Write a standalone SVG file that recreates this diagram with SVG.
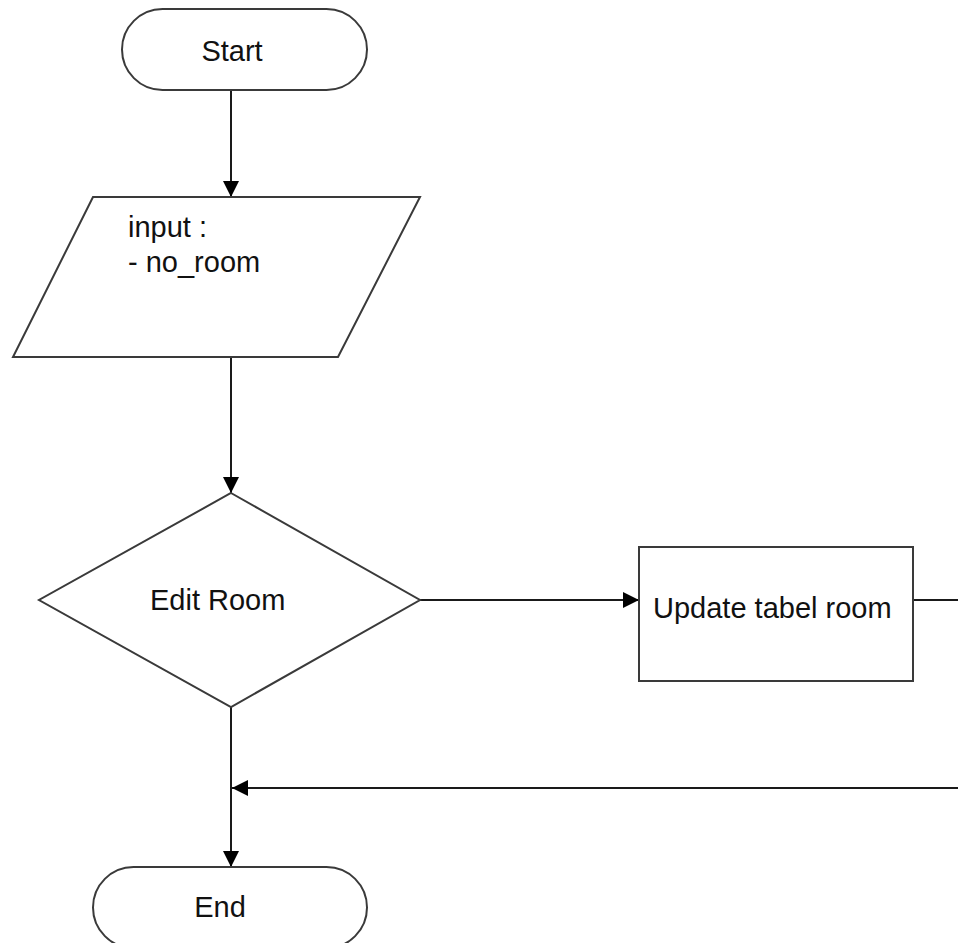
<svg xmlns="http://www.w3.org/2000/svg" width="958" height="943" viewBox="0 0 958 943">
  <style>
    .shape { fill: #ffffff; stroke: #3a3a3a; stroke-width: 2; }
    .label { font-family: "Liberation Sans", Arial, sans-serif; font-size: 29px; fill: #111111; }
    .wire { fill: none; stroke: #1a1a1a; stroke-width: 2; }
  </style>
  <defs>
    <marker id="arrow" viewBox="0 0 16 16" refX="16" refY="8" markerWidth="16" markerHeight="16" markerUnits="userSpaceOnUse" orient="auto">
      <path d="M0,0 L16,8 L0,16 Z" fill="#000000"/>
    </marker>
  </defs>
  <rect width="958" height="943" fill="#ffffff"/>

  <g id="connectors">
    <line class="wire" x1="231" y1="90" x2="231" y2="197" marker-end="url(#arrow)"/>
    <line class="wire" x1="231" y1="357" x2="231" y2="493" marker-end="url(#arrow)"/>
    <line class="wire" x1="420" y1="600" x2="639" y2="600" marker-end="url(#arrow)"/>
    <line class="wire" x1="913" y1="600" x2="960" y2="600"/>
    <line class="wire" x1="960" y1="788" x2="232" y2="788" marker-end="url(#arrow)"/>
    <line class="wire" x1="231" y1="707" x2="231" y2="867" marker-end="url(#arrow)"/>
  </g>

  <g id="start">
    <rect class="shape" x="122" y="9" width="245" height="81" rx="40.5" ry="40.5"/>
    <text class="label" x="232" y="61" text-anchor="middle">Start</text>
  </g>

  <g id="input">
    <polygon class="shape" points="93,197 420,197 338,357 13,357"/>
    <text class="label" x="128" y="237">input :</text>
    <text class="label" x="128" y="272">- no_room</text>
  </g>

  <g id="edit-room">
    <polygon class="shape" points="231,493 420,600 231,707 39,600"/>
    <text class="label" x="150" y="610">Edit Room</text>
  </g>

  <g id="update-room">
    <rect class="shape" x="639" y="547" width="274" height="134"/>
    <text class="label" x="653" y="618">Update tabel room</text>
  </g>

  <g id="end">
    <rect class="shape" x="93" y="867" width="274" height="81" rx="40.5" ry="40.5"/>
    <text class="label" x="220" y="917" text-anchor="middle">End</text>
  </g>
</svg>
